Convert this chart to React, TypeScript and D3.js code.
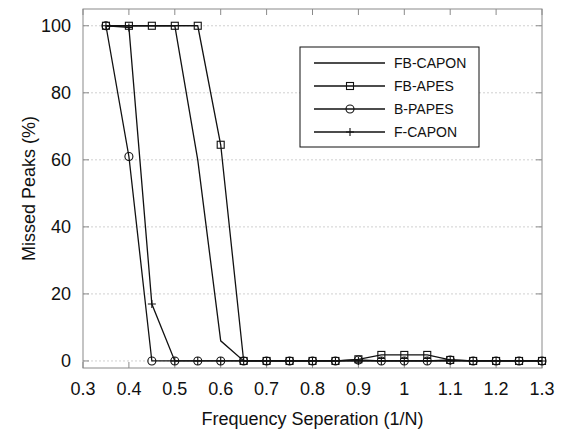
import * as d3 from 'd3'

const freq = [0.35, 0.4, 0.45, 0.5, 0.55, 0.6, 0.65, 0.7, 0.75, 0.8, 0.85, 0.9, 0.95, 1.0, 1.05, 1.1, 1.15, 1.2, 1.25, 1.3]
const fbCapon = [100, 100, 100, 100, 60, 6, 0, 0, 0, 0, 0, 0, 0, 0, 0, 0, 0, 0, 0, 0]
const fbApes = [100, 100, 100, 100, 100, 64.5, 0, 0, 0, 0, 0, 0.5, 1.8, 1.8, 1.8, 0.3, 0, 0, 0, 0]
const bPapes = [100, 61, 0, 0, 0, 0, 0, 0, 0, 0, 0, 0.3, 0, 0, 0, 0.3, 0, 0, 0, 0]
const fCapon = [100, 99.5, 17, 0, 0, 0, 0, 0, 0, 0, 0, 0, 0, 0, 0, 0, 0, 0, 0, 0]
const seriesNames = ['FB-CAPON', 'FB-APES', 'B-PAPES', 'F-CAPON']
const markers = ['none', 'square', 'circle', 'plus']
const xTicks = [0.3, 0.4, 0.5, 0.6, 0.7, 0.8, 0.9, 1.0, 1.1, 1.2, 1.3]
const yTicks = [0, 20, 40, 60, 80, 100]

const W = 562
const H = 430
const m = { left: 83, right: 20, top: 9, bottom: 62 }
const FONT = 'Liberation Sans, Arial, sans-serif'

function Marker({ type, x, y }: { type: string; x: number; y: number }) {
  if (type === 'square') return <rect x={x - 3.5} y={y - 3.5} width={7} height={7} fill="none" stroke="#111" strokeWidth={1.1} />
  if (type === 'circle') return <circle cx={x} cy={y} r={4} fill="none" stroke="#111" strokeWidth={1.1} />
  if (type === 'plus') return <path d={`M${x - 4},${y}H${x + 4}M${x},${y - 4}V${y + 4}`} stroke="#111" strokeWidth={1.1} />
  return null
}

export default function App() {
  const x = d3.scaleLinear().domain([0.3, 1.3]).range([m.left, W - m.right])
  const y = d3.scaleLinear().domain([-2.1, 105]).range([H - m.bottom, m.top])
  const series = [fbCapon, fbApes, bPapes, fCapon]
  const line = d3.line<number>().x((_, i) => x(freq[i])).y(d => y(d))
  const [x0, x1] = x.range()
  const [yb, yt] = y.range()

  return (
    <svg width={W} height={H} style={{ position: 'absolute', left: 0, top: 0, background: '#fff' }} fontFamily={FONT}>
      {/* grid */}
      {yTicks.map(t => (
        <line key={'g' + t} x1={x0} x2={x1} y1={y(t)} y2={y(t)} stroke="#d0d0d0" strokeDasharray="2,2" strokeWidth={1} />
      ))}
      {/* frame */}
      <rect x={x0} y={yt} width={x1 - x0} height={yb - yt} fill="none" stroke="#8a8a8a" strokeWidth={1} />
      {xTicks.map(t => (
        <g key={'xt' + t}>
          <line x1={x(t)} x2={x(t)} y1={yb} y2={yb - 6} stroke="#8a8a8a" />
          <line x1={x(t)} x2={x(t)} y1={yt} y2={yt + 6} stroke="#8a8a8a" />
          <text x={x(t)} y={yb + 27} textAnchor="middle" fontSize={18} fill="#111">{d3.format('')(+t.toFixed(1))}</text>
        </g>
      ))}
      {yTicks.map(t => (
        <g key={'yt' + t}>
          <line x1={x0} x2={x0 + 6} y1={y(t)} y2={y(t)} stroke="#8a8a8a" />
          <line x1={x1} x2={x1 - 6} y1={y(t)} y2={y(t)} stroke="#8a8a8a" />
          <text x={x0 - 12} y={y(t) + 6.5} textAnchor="end" fontSize={18} fill="#111">{t}</text>
        </g>
      ))}
      {/* lines */}
      {series.map((s, k) => (
        <g key={'s' + k}>
          <path d={line(s) || ''} fill="none" stroke="#111" strokeWidth={1.3} />
          {s.map((v, i) => <Marker key={i} type={markers[k]} x={x(freq[i])} y={y(v)} />)}
        </g>
      ))}
      {/* legend */}
      <rect x={300} y={47} width={179} height={100} fill="#fff" stroke="#111" strokeWidth={1} />
      {seriesNames.map((n, k) => {
        const ly = 63 + k * 23
        return (
          <g key={n}>
            <line x1={314} x2={385} y1={ly} y2={ly} stroke="#111" strokeWidth={1.3} />
            <Marker type={markers[k]} x={350} y={ly} />
            <text x={394} y={ly + 5} fontSize={14} fill="#111">{n}</text>
          </g>
        )
      })}
      {/* axis labels */}
      <text x={(x0 + x1) / 2} y={425} textAnchor="middle" fontSize={18} fill="#111">Frequency Seperation (1/N)</text>
      <text transform={`translate(35,${(yt + yb) / 2}) rotate(-90)`} textAnchor="middle" fontSize={18} fill="#111">Missed Peaks (%)</text>
    </svg>
  )
}
